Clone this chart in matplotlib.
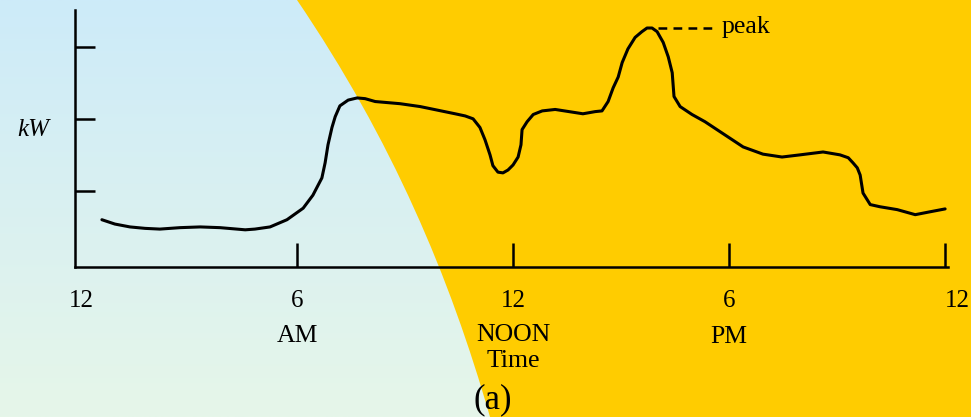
import numpy as np
import matplotlib
matplotlib.use('Agg')
import matplotlib.pyplot as plt
from matplotlib.path import Path
from matplotlib.patches import PathPatch

plt.rcParams['font.family'] = ['Liberation Serif', 'DejaVu Serif']

# daily load curve, hours from midnight vs kW
hours = [0.58, 0.94, 1.36, 1.78, 2.19, 2.75, 3.31, 3.86, 4.56, 4.83, 5.11, 5.25,
         5.72, 6.17, 6.44, 6.69, 6.78,
         6.86, 6.97, 7.06, 7.19, 7.42, 7.67, 7.89, 8.17, 8.86, 9.42, 10.39, 10.67,
         10.89, 11.08, 11.22, 11.36, 11.44, 11.58, 11.72, 11.86, 12.00, 12.14,
         12.22, 12.25, 12.39, 12.56, 12.81, 13.17, 13.94, 14.28, 14.47, 14.64,
         14.78, 14.92, 15.03, 15.19, 15.39, 15.58, 15.72, 15.86, 16.00, 16.17,
         16.31, 16.42, 16.47, 16.64, 16.97, 17.33, 18.39, 18.94, 19.47, 19.97,
         20.61, 21.08, 21.31, 21.44, 21.56, 21.64, 21.72, 21.92, 22.19, 22.67,
         23.17, 23.58, 24.00]
kw = [0.60, 0.54, 0.50, 0.48, 0.47, 0.49, 0.50, 0.49, 0.46, 0.47, 0.49, 0.50,
      0.60, 0.76, 0.94, 1.18, 1.39,
      1.64, 1.88, 2.03, 2.18, 2.26, 2.29, 2.28, 2.24, 2.21, 2.17, 2.07, 2.04,
      2.00, 1.88, 1.71, 1.50, 1.35, 1.26, 1.25, 1.29, 1.36, 1.47,
      1.64, 1.85, 1.96, 2.06, 2.11, 2.13, 2.07, 2.10, 2.11, 2.24,
      2.43, 2.58, 2.78, 2.97, 3.13, 3.21, 3.26, 3.26, 3.21, 3.06,
      2.86, 2.64, 2.31, 2.17, 2.06, 1.96, 1.61, 1.51, 1.47, 1.50,
      1.54, 1.50, 1.46, 1.39, 1.32, 1.22, 0.97, 0.81, 0.78, 0.74,
      0.67, 0.71, 0.75]

tick_hours = [0, 6, 12, 18, 24]
tick_labels = ['12', '6', '12', '6', '12']
ytick_vals = [1, 2, 3]
peak_kw = 3.26
peak_dash = [16.03, 17.69]

W, H = 971, 417
fig = plt.figure(figsize=(W / 100, H / 100), dpi=100)

# background: blue-green gradient with yellow sweep on the right
bg = fig.add_axes([0, 0, 1, 1])
bg.set_xlim(0, W)
bg.set_ylim(H, 0)
bg.axis('off')
top = np.array([205, 235, 249]) / 255
bot = np.array([230, 246, 233]) / 255
t = np.linspace(0, 1, 200)[:, None, None]
grad = top * (1 - t) + bot * t
bg.imshow(np.repeat(grad, 2, axis=1), extent=[0, W, H, 0], aspect='auto')
verts = [(297, 0), (392, 140), (450, 277), (490, H), (W, H), (W, 0), (297, 0)]
codes = [Path.MOVETO, Path.CURVE4, Path.CURVE4, Path.CURVE4,
         Path.LINETO, Path.LINETO, Path.CLOSEPOLY]
bg.add_patch(PathPatch(Path(verts, codes), facecolor='#FFCC00', edgecolor='none'))

ax = fig.add_axes([75 / W, (H - 267) / H, (948 - 75) / W, (267 - 10) / H])
ax.patch.set_visible(False)
ax.set_xlim(-0.167, 24.08)
ax.set_ylim(-0.056, 3.51)
for s in ['top', 'right']:
    ax.spines[s].set_visible(False)
for s in ['left', 'bottom']:
    ax.spines[s].set_linewidth(1.8)

ax.plot(hours, kw, color='black', lw=2.2, solid_joinstyle='round',
        solid_capstyle='round')

ax.set_xticks(tick_hours[1:])
ax.set_yticks(ytick_vals)
ax.tick_params(axis='x', direction='in', length=17, width=1.8,
               labelbottom=False)
ax.tick_params(axis='y', direction='in', length=14.5, width=1.8,
               labelleft=False)

for h, lab in zip(tick_hours, tick_labels):
    dx = 8.6 if h == 24 else 0
    ax.annotate(lab, xy=(h, 0), xycoords=('data', 'axes fraction'),
                xytext=(dx, -29), textcoords='offset points',
                ha='center', va='baseline', fontsize=18, annotation_clip=False)

sub = [(6, 'AM', 54), (12, 'NOON', 53), (12, 'Time', 72), (18, 'PM', 54.7)]
for h, lab, off in sub:
    ax.annotate(lab, xy=(h, 0), xycoords=('data', 'axes fraction'),
                xytext=(0, -off), textcoords='offset points',
                ha='center', va='baseline', fontsize=18.5, annotation_clip=False)

ax.annotate('(a)', xy=(12, 0), xycoords=('data', 'axes fraction'),
            xytext=(-14.5, -101.5), textcoords='offset points',
            ha='center', va='baseline', fontsize=25, annotation_clip=False)

# peak marker
ax.plot(peak_dash, [peak_kw, peak_kw], color='black', lw=1.8, ls=(0, (3.5, 2.5)))
ax.text(17.78, peak_kw - 0.07, 'peak', ha='left', va='baseline', fontsize=18.5)

fig.text(33 / W, (H - 136) / H, 'kW', ha='center', va='baseline',
         fontsize=18, style='italic')

fig.savefig('out.png', dpi=100)
